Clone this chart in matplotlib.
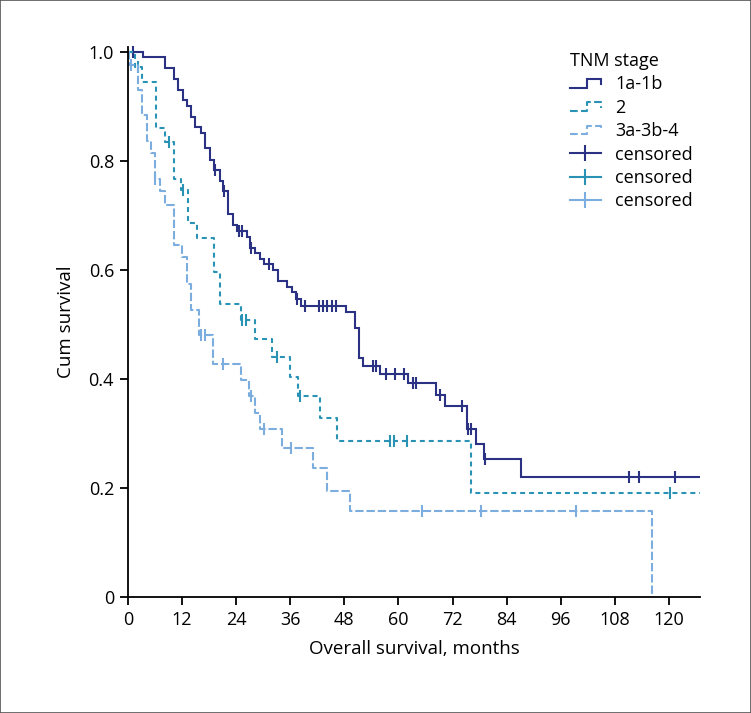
import numpy as np
import matplotlib
matplotlib.use("Agg")
import matplotlib.pyplot as plt
from matplotlib.lines import Line2D
from matplotlib.legend_handler import HandlerLine2D
from matplotlib.patches import Rectangle

plt.rcParams['font.family'] = ['Open Sans', 'DejaVu Sans']

# ---------------- data (Kaplan-Meier step estimates) ----------------
groups = ["1a-1b", "2", "3a-3b-4"]

t1 = [3.3, 8.2, 10.1, 11.2, 12.1, 13.0, 13.9, 14.8, 16.2, 17.1, 18.2, 19.1, 20.3,
      21.0, 22.2, 23.3, 24.2, 26.3, 27.0, 28.2, 29.3, 30.2, 32.1, 33.3, 35.2, 36.3,
      37.3, 38.3, 48.3, 50.3, 51.3, 52.2, 56.0, 62.2, 68.3, 70.3, 75.1, 77.2, 79.0, 87.2]
s1 = [0.990, 0.970, 0.950, 0.930, 0.911, 0.901, 0.881, 0.862, 0.852, 0.823, 0.802, 0.783, 0.764,
      0.744, 0.702, 0.682, 0.672, 0.661, 0.641, 0.631, 0.620, 0.610, 0.599, 0.579, 0.569, 0.560,
      0.546, 0.534, 0.522, 0.493, 0.438, 0.424, 0.410, 0.392, 0.371, 0.351, 0.308, 0.280, 0.253, 0.221]
c1 = [1.2, 19.3, 21.2, 24.7, 25.2, 27.2, 31.3, 37.4, 39.2, 42.4, 43.3, 44.2, 45.2, 46.1,
      54.3, 55.0, 57.2, 59.2, 61.2, 63.3, 64.0, 69.2, 74.2, 75.5, 76.2, 79.1, 111.2, 113.3, 121.3]
end1 = 127.0

t2 = [1.5, 3.2, 6.2, 8.2, 10.1, 11.8, 13.4, 15.3, 19.0, 20.3, 25.0, 28.2, 32.0, 36.0,
      37.8, 42.6, 46.3, 76.2]
s2 = [0.972, 0.945, 0.860, 0.835, 0.767, 0.747, 0.686, 0.658, 0.597, 0.538, 0.508, 0.473,
      0.440, 0.403, 0.368, 0.328, 0.287, 0.190]
c2 = [2.3, 9.0, 12.1, 25.2, 26.1, 33.1, 38.1, 58.1, 59.0, 62.0, 120.2]
end2 = 127.0

t3 = [0.3, 2.3, 3.2, 4.3, 5.2, 5.9, 7.1, 8.2, 10.1, 11.9, 13.0, 14.0, 15.7, 18.9, 25.0,
      26.8, 28.2, 29.3, 34.2, 41.1, 44.1, 49.2, 116.2]
s3 = [0.976, 0.930, 0.884, 0.836, 0.814, 0.766, 0.744, 0.719, 0.646, 0.624, 0.575, 0.527,
      0.480, 0.427, 0.398, 0.369, 0.337, 0.308, 0.274, 0.236, 0.195, 0.157, 0.0]
c3 = [0.7, 6.1, 16.1, 17.0, 21.1, 27.2, 30.2, 36.2, 65.3, 78.3, 99.3]
end3 = 116.2

xticks = [0, 12, 24, 36, 48, 60, 72, 84, 96, 108, 120]
yticks = [0, 0.2, 0.4, 0.6, 0.8, 1.0]
yticklabels = ["0", "0.2", "0.4", "0.6", "0.8", "1.0"]

# ---------------- styles ----------------
colors = ["#2b3183", "#2a93b5", "#7badde"]
lw = 1.5
styles = ["-", (0, (2.4, 1.9)), (0, (4.0, 1.4))]

fig = plt.figure(figsize=(7.51, 7.13), dpi=100)
ax = fig.add_axes([128 / 751, 1 - 597 / 713, (700 - 128) / 751, (597 - 47) / 713])

series = [(t1, s1, c1, end1), (t2, s2, c2, end2), (t3, s3, c3, end3)]
step_handles = []
cens_handles = []
for (t, s, c, end), col, ls, name in zip(series, colors, styles, groups):
    x = np.concatenate([[0.0], t, [end]])
    y = np.concatenate([[1.0], s, [s[-1]]])
    ln, = ax.plot(x, y, drawstyle="steps-post", color=col, lw=lw, linestyle=ls,
                  label=name, solid_joinstyle="miter")
    step_handles.append(ln)
    tt = np.concatenate([[0.0], t])
    ss = np.concatenate([[1.0], s])
    idx = np.searchsorted(tt, np.asarray(c), side="right") - 1
    cy = ss[idx]
    ax.plot(c, cy, linestyle="none", marker="|", markersize=9, markeredgewidth=1.5,
            color=col, clip_on=False)
    cens_handles.append(Line2D([], [], color=col, lw=1.5, marker="|", markersize=12,
                               markeredgewidth=1.5))

ax.set_xlim(0, 126.9)
ax.set_ylim(0, 1.009)
ax.set_xticks(xticks)
ax.set_yticks(yticks)
ax.set_yticklabels(yticklabels)
for sp in ["top", "right"]:
    ax.spines[sp].set_visible(False)
for sp in ["left", "bottom"]:
    ax.spines[sp].set_linewidth(1.3)
ax.tick_params(axis="both", direction="out", length=6, width=1.3, labelsize=13, pad=4,
               colors="black")
ax.set_xlabel("Overall survival, months", fontsize=13.5, labelpad=8)
ax.set_ylabel("Cum survival", fontsize=13.5, labelpad=10)


class StepHandler(HandlerLine2D):
    def create_artists(self, legend, orig_handle, xdescent, ydescent, width, height,
                       fontsize, trans):
        x0 = -xdescent
        y0 = -ydescent
        xs = [x0, x0 + 0.55 * width, x0 + 0.55 * width, x0 + width, x0 + width]
        ys = [y0 + 0.15 * height, y0 + 0.15 * height, y0 + 0.85 * height,
              y0 + 0.85 * height, y0 + 0.4 * height]
        ln = Line2D(xs, ys, color=orig_handle.get_color(), lw=orig_handle.get_linewidth(),
                    linestyle=orig_handle.get_linestyle(), solid_joinstyle="miter")
        ln.set_transform(trans)
        return [ln]


handles = step_handles + cens_handles
labels = groups + ["censored", "censored", "censored"]
hmap = {h: StepHandler() for h in step_handles}
leg = ax.legend(handles, labels, handler_map=hmap, title="TNM stage", frameon=False,
                loc="upper left", bbox_to_anchor=(570 / 751, 1 - 52 / 713),
                bbox_transform=fig.transFigure, fontsize=13, title_fontsize=13,
                alignment="left", handlelength=1.7, handletextpad=0.8,
                labelspacing=0.3, borderpad=0, borderaxespad=0)

fig.patches.append(Rectangle((0, 0), 1, 1, transform=fig.transFigure, fill=False,
                             edgecolor="#555555", lw=1.2))

fig.savefig("out.png", dpi=100)
